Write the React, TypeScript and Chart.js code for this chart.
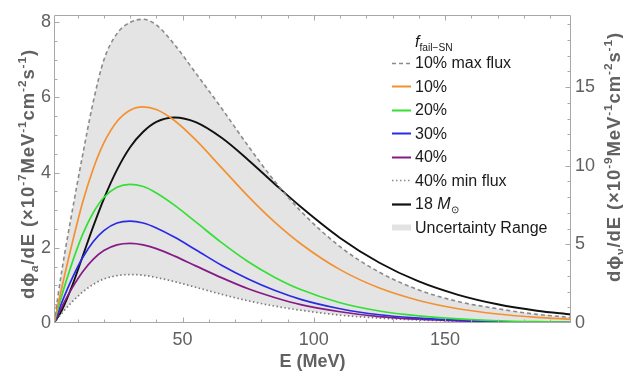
import React, { useEffect, useRef } from "react";
import { Chart, registerables } from "chart.js";

Chart.register(...registerables);

// ---- data ----
const energies = [1, 4, 8, 12, 16, 20, 25, 30, 35, 40, 47, 55, 65, 75, 85, 95, 110, 125, 140, 155, 170, 185, 198];
const maxFlux10 = [0, 1.4, 3.0, 4.5, 5.9, 7.0, 7.7, 8.0, 8.08, 7.93, 7.4, 6.65, 5.7, 4.71, 3.78, 2.98, 2.03, 1.35, 0.88, 0.57, 0.38, 0.23, 0.15];
const fail10 = [0, 0.95, 2.14, 3.23, 4.11, 4.79, 5.36, 5.66, 5.75, 5.68, 5.38, 4.87, 4.12, 3.37, 2.69, 2.11, 1.42, 0.93, 0.6, 0.38, 0.24, 0.15, 0.1];
const fail20 = [0, 0.74, 1.62, 2.37, 2.94, 3.34, 3.61, 3.69, 3.63, 3.46, 3.13, 2.69, 2.13, 1.63, 1.22, 0.89, 0.54, 0.32, 0.19, 0.11, 0.06, 0.034, 0.02];
const fail30 = [0, 0.55, 1.2, 1.75, 2.17, 2.46, 2.66, 2.71, 2.66, 2.53, 2.28, 1.95, 1.53, 1.17, 0.87, 0.63, 0.38, 0.22, 0.13, 0.075, 0.04, 0.023, 0.013];
const fail40 = [0, 0.43, 0.94, 1.37, 1.7, 1.93, 2.08, 2.12, 2.08, 1.98, 1.78, 1.52, 1.2, 0.91, 0.68, 0.49, 0.3, 0.17, 0.1, 0.058, 0.032, 0.018, 0.01];
const minFlux40 = [0, 0.26, 0.57, 0.83, 1.03, 1.17, 1.26, 1.29, 1.27, 1.21, 1.1, 0.95, 0.76, 0.59, 0.45, 0.34, 0.21, 0.13, 0.08, 0.05, 0.03, 0.018, 0.011];
// neutrino flux of the 18 Msun model, right axis units (x10^-9)
const sn18 = [0, 0.81, 2.4, 4.28, 6.16, 7.9, 9.74, 11.18, 12.16, 12.79, 13.07, 12.77, 11.76, 10.37, 8.86, 7.39, 5.41, 3.83, 2.64, 1.79, 1.19, 0.78, 0.54];

const xTicks = [50, 100, 150];
const yTicks = [0, 2, 4, 6, 8];
const y1Ticks = [0, 5, 10, 15];
const xRange = [1, 198];
const yMax = 8.2;
const y1Max = 19.6;

const FONT = '"Liberation Sans", Arial, Helvetica, sans-serif';
const GREY_TEXT = "#616161";
const FRAME = "#a8a8a8";

type Seg = { t: string; k?: "sup" | "sub"; it?: boolean; bold?: boolean };

const leftTitle: Seg[] = [
  { t: "d\u03d5" },
  { t: "a", k: "sub", it: true },
  { t: "/dE (\u00d710" },
  { t: "-7", k: "sup" },
  { t: "MeV" },
  { t: "-1", k: "sup" },
  { t: "cm" },
  { t: "-2", k: "sup" },
  { t: "s" },
  { t: "-1", k: "sup" },
  { t: ")" },
];
const rightTitle: Seg[] = [
  { t: "d\u03d5" },
  { t: "\u03bd", k: "sub" },
  { t: "/dE (\u00d710" },
  { t: "-9", k: "sup" },
  { t: "MeV" },
  { t: "-1", k: "sup" },
  { t: "cm" },
  { t: "-2", k: "sup" },
  { t: "s" },
  { t: "-1", k: "sup" },
  { t: ")" },
];

function segFont(s: Seg, size: number, bold: boolean) {
  const sz = s.k ? size * 0.64 : size;
  return `${s.it ? "italic " : ""}${bold || s.bold ? "bold " : ""}${sz}px ${FONT}`;
}
function measureRich(ctx: CanvasRenderingContext2D, segs: Seg[], size: number, bold: boolean) {
  let w = 0;
  for (const s of segs) {
    ctx.font = segFont(s, size, bold);
    w += ctx.measureText(s.t).width;
  }
  return w;
}
function drawRich(
  ctx: CanvasRenderingContext2D,
  segs: Seg[],
  cx: number,
  cy: number,
  rot: number,
  size: number,
  bold: boolean,
  color: string,
  align: "center" | "left",
  spacing = 0
) {
  ctx.save();
  ctx.translate(cx, cy);
  ctx.rotate(rot);
  ctx.fillStyle = color;
  ctx.textAlign = "left";
  ctx.textBaseline = "alphabetic";
  (ctx as any).letterSpacing = `${spacing}px`;
  const total = measureRich(ctx, segs, size, bold);
  let x = align === "center" ? -total / 2 : 0;
  const base = size * 0.36;
  for (const s of segs) {
    ctx.font = segFont(s, size, bold);
    const dy = s.k === "sup" ? -size * 0.42 : s.k === "sub" ? size * 0.25 : 0;
    ctx.fillText(s.t, x, base + dy);
    x += ctx.measureText(s.t).width;
  }
  ctx.restore();
}

type LegendRow = { segs: Seg[]; color: string; dash?: number[]; width: number };
const legendRows: LegendRow[] = [
  { segs: [{ t: "10% max flux" }], color: "#8a8a8a", dash: [4, 3], width: 1.6 },
  { segs: [{ t: "10%" }], color: "#f39131", width: 2 },
  { segs: [{ t: "20%" }], color: "#33e033", width: 2 },
  { segs: [{ t: "30%" }], color: "#2a2ae6", width: 2 },
  { segs: [{ t: "40%" }], color: "#861a86", width: 2 },
  { segs: [{ t: "40% min flux" }], color: "#8a8a8a", dash: [1.5, 2.5], width: 1.6 },
  { segs: [{ t: "18 " }, { t: "M", it: true }, { t: "\u2299", k: "sub" }], color: "#111111", width: 2.2 },
  { segs: [{ t: "Uncertainty Range" }], color: "#e2e2e2", width: 6 },
];
const legendHeader: Seg[] = [{ t: "f", it: true }, { t: "fail\u2212SN", k: "sub" }];

const framePlugin = {
  id: "frame",
  afterDatasetsDraw(chart: any) {
    const { ctx, chartArea: a, scales } = chart;
    const xs = scales.x, ys = scales.y, y1s = scales.y1;
    const L = Math.round(a.left) + 0.5, R = Math.round(a.right) - 0.5;
    const T = Math.round(a.top) + 0.5, B = Math.round(a.bottom) - 0.5;
    ctx.save();
    ctx.strokeStyle = FRAME;
    ctx.lineWidth = 1;
    ctx.beginPath();
    ctx.rect(L, T, R - L, B - T);
    ctx.stroke();
    ctx.beginPath();
    for (let v = 10; v < xRange[1]; v += 10) {
      const px = Math.round(xs.getPixelForValue(v)) + 0.5;
      const len = v % 50 === 0 ? 5 : 3;
      ctx.moveTo(px, B);
      ctx.lineTo(px, B - len);
      ctx.moveTo(px, T);
      ctx.lineTo(px, T + len);
    }
    for (let v = 0.5; v < yMax; v += 0.5) {
      const py = Math.round(ys.getPixelForValue(v)) + 0.5;
      const len = v % 2 === 0 ? 5 : 3;
      ctx.moveTo(L, py);
      ctx.lineTo(L + len, py);
    }
    for (let v = 1; v < y1Max; v += 1) {
      const py = Math.round(y1s.getPixelForValue(v)) + 0.5;
      const len = v % 5 === 0 ? 5 : 3;
      ctx.moveTo(R, py);
      ctx.lineTo(R - len, py);
    }
    ctx.stroke();
    ctx.restore();
  },
  afterDraw(chart: any) {
    const { ctx, chartArea: a } = chart;
    // axis titles
    drawRich(ctx, leftTitle, 27, 174, -Math.PI / 2, 18.5, true, GREY_TEXT, "center", 0.9);
    drawRich(ctx, rightTitle, 613, 157, -Math.PI / 2, 18.5, true, GREY_TEXT, "center", 0.9);
    drawRich(ctx, [{ t: "E (MeV)" }], (a.left + a.right) / 2, 361, 0, 18, true, GREY_TEXT, "center");

    // legend
    const x0 = 392, x1 = 411, tx = 415;
    drawRich(ctx, legendHeader, tx, 41, 0, 16, false, "#1a1a1a", "left");
    legendRows.forEach((r, i) => {
      const cy = 62.7 + i * 23.5;
      ctx.save();
      ctx.strokeStyle = r.color;
      ctx.lineWidth = r.width;
      ctx.setLineDash(r.dash || []);
      ctx.beginPath();
      ctx.moveTo(x0, Math.round(cy) + 0.5);
      ctx.lineTo(x1, Math.round(cy) + 0.5);
      ctx.stroke();
      ctx.restore();
      drawRich(ctx, r.segs, tx, cy, 0, 16, false, "#1a1a1a", "left");
    });
  },
};

const pts = (ys: number[]) => energies.map((e, i) => ({ x: e, y: ys[i] }));

export default function App() {
  const ref = useRef<HTMLCanvasElement>(null);
  useEffect(() => {
    const base = { pointRadius: 0, cubicInterpolationMode: "monotone" as const, fill: false };
    const chart = new Chart(ref.current!, {
      type: "line",
      data: {
        datasets: [
          { ...base, label: "10% max flux", data: pts(maxFlux10), borderColor: "#8a8a8a", borderWidth: 1.6, borderDash: [4, 3], yAxisID: "y", fill: { target: 5 }, backgroundColor: "#e4e4e4" } as any,
          { ...base, label: "10%", data: pts(fail10), borderColor: "#f39131", borderWidth: 1.7, yAxisID: "y" },
          { ...base, label: "20%", data: pts(fail20), borderColor: "#33e033", borderWidth: 1.7, yAxisID: "y" },
          { ...base, label: "30%", data: pts(fail30), borderColor: "#2a2ae6", borderWidth: 1.7, yAxisID: "y" },
          { ...base, label: "40%", data: pts(fail40), borderColor: "#861a86", borderWidth: 1.7, yAxisID: "y" },
          { ...base, label: "40% min flux", data: pts(minFlux40), borderColor: "#7a7a7a", borderWidth: 1.7, borderDash: [1.5, 2.5], yAxisID: "y" },
          { ...base, label: "18 Msun", data: pts(sn18), borderColor: "#111111", borderWidth: 1.9, yAxisID: "y1" },
        ],
      },
      options: {
        animation: false,
        responsive: false,
        devicePixelRatio: 1,
        layout: { padding: { top: 5, left: 0, right: 0, bottom: 0 } },
        plugins: {
          legend: { display: false },
          tooltip: { enabled: false },
          filler: { drawTime: "beforeDatasetsDraw" },
        } as any,
        scales: {
          x: {
            type: "linear",
            min: xRange[0],
            max: xRange[1],
            grid: { display: false, drawTicks: false },
            border: { display: false },
            afterBuildTicks: (s: any) => { s.ticks = xTicks.map((v) => ({ value: v })); },
            afterFit: (s: any) => { s.height = 53; },
            ticks: { font: { size: 18, family: FONT }, color: GREY_TEXT, padding: 6, maxRotation: 0, autoSkip: false },
          },
          y: {
            type: "linear",
            position: "left",
            min: 0,
            max: yMax,
            grid: { display: false, drawTicks: false },
            border: { display: false },
            afterBuildTicks: (s: any) => { s.ticks = yTicks.map((v) => ({ value: v })); },
            afterFit: (s: any) => { s.width = 54; },
            ticks: { font: { size: 18, family: FONT }, color: GREY_TEXT, padding: 3, autoSkip: false },
          },
          y1: {
            type: "linear",
            position: "right",
            min: 0,
            max: y1Max,
            grid: { display: false, drawTicks: false },
            border: { display: false },
            afterBuildTicks: (s: any) => { s.ticks = y1Ticks.map((v) => ({ value: v })); },
            afterFit: (s: any) => { s.width = 52; },
            ticks: { font: { size: 18, family: FONT }, color: GREY_TEXT, padding: 4, autoSkip: false },
          },
        },
      },
      plugins: [framePlugin],
    } as any);
    return () => chart.destroy();
  }, []);
  return (
    <div style={{ position: "fixed", left: 0, top: 0, width: 623, height: 376, background: "#fff" }}>
      <canvas ref={ref} width={623} height={376} style={{ display: "block", width: 623, height: 376 }} />
    </div>
  );
}
